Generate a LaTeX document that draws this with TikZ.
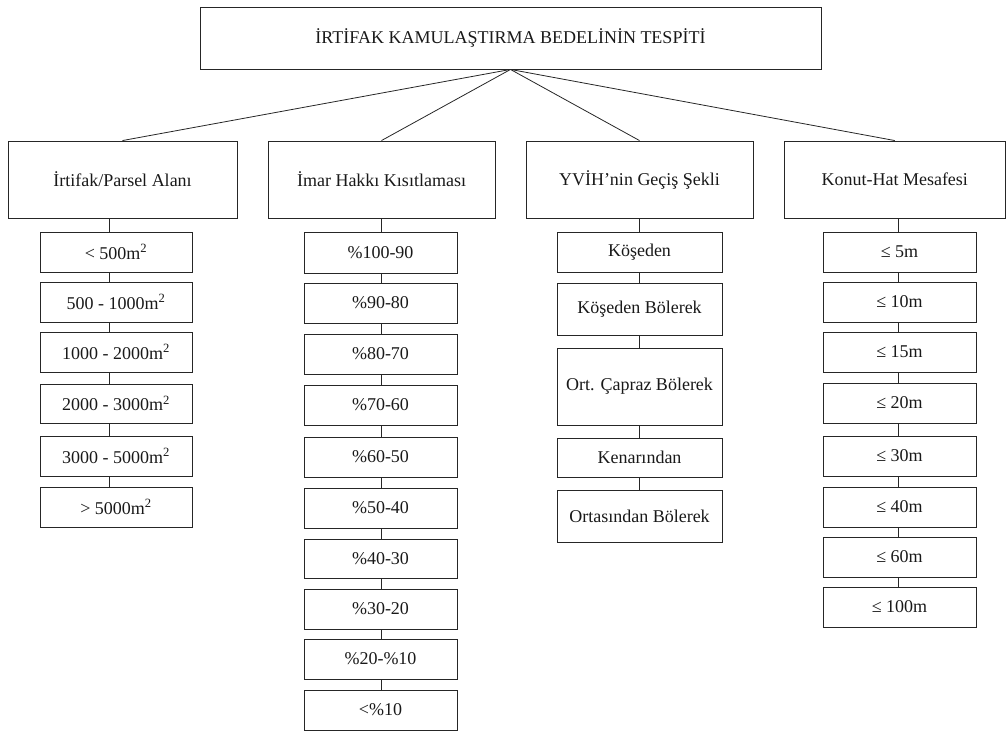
\documentclass[tikz,border=0pt]{standalone}
\usepackage{fontspec}
\setmainfont{Liberation Serif}
\tikzset{
  box/.style={draw=black!85, line width=0.9pt, inner sep=0pt, align=center, text=black!90,
    font=\fontsize{18}{21}\selectfont},
  link/.style={draw=black!85, line width=0.8pt}
}
% \bx{name}{x1}{y1}{x2}{y2}{text}
\newcommand{\bx}[6]{%
  \node[box, minimum width={(#4-#2)*1pt}, minimum height={(#5-#3)*1pt}]
    (#1) at ({(#2+#4)/2},{(#3+#5)/2}) {#6};}
\newcommand{\sqm}{m\textsuperscript{2}}
\begin{document}
\begin{tikzpicture}[x=1pt,y=-1pt]
\useasboundingbox (0,0) rectangle (1007,731);
% title
\bx{top}{200}{7}{821}{69}{İRTİFAK KAMULAŞTIRMA BEDELİNİN TESPİTİ}
% categories
\bx{k1}{8}{141}{237}{218}{İrtifak/Parsel Alanı}
\bx{k2}{268}{141}{495}{218}{İmar Hakkı Kısıtlaması}
\bx{k3}{526}{141}{753}{218}{YVİH’nin Geçiş Şekli}
\bx{k4}{784}{141}{1005.5}{218}{Konut-Hat Mesafesi}
\foreach \k in {k1,k2,k3,k4}{\draw[link] (top.south) -- (\k.north);}
% column 1
\bx{a1}{40}{232}{192}{272}{< 500\sqm}
\bx{a2}{40}{282}{192}{322}{500 - 1000\sqm}
\bx{a3}{40}{332}{192}{372}{1000 - 2000\sqm}
\bx{a4}{40}{384}{192}{423}{2000 - 3000\sqm}
\bx{a5}{40}{436}{192}{476}{3000 - 5000\sqm}
\bx{a6}{40}{487}{192}{527}{> 5000\sqm}
% column 2
\bx{b1}{304}{232}{457}{273}{\%100-90}
\bx{b2}{304}{283}{457}{323}{\%90-80}
\bx{b3}{304}{334}{457}{374}{\%80-70}
\bx{b4}{304}{385}{457}{425}{\%70-60}
\bx{b5}{304}{437}{457}{477}{\%60-50}
\bx{b6}{304}{488}{457}{528}{\%50-40}
\bx{b7}{304}{539}{457}{578}{\%40-30}
\bx{b8}{304}{589}{457}{629}{\%30-20}
\bx{b9}{304}{639}{457}{679}{\%20-\%10}
\bx{b10}{304}{690}{457}{730}{<\%10}
% column 3
\bx{c1}{557}{232}{722}{272}{Köşeden}
\bx{c2}{557}{283}{722}{335}{Köşeden Bölerek}
\bx{c3}{557}{348}{722}{425}{Ort. Çapraz Bölerek}
\bx{c4}{557}{438}{722}{477}{Kenarından}
\bx{c5}{557}{490}{722}{542}{Ortasından Bölerek}
% column 4
\bx{d1}{823}{232}{976}{272}{≤ 5m}
\bx{d2}{823}{282}{976}{322}{≤ 10m}
\bx{d3}{823}{332}{976}{372}{≤ 15m}
\bx{d4}{823}{383}{976}{423}{≤ 20m}
\bx{d5}{823}{436}{976}{476}{≤ 30m}
\bx{d6}{823}{487}{976}{527}{≤ 40m}
\bx{d7}{823}{537}{976}{577}{≤ 60m}
\bx{d8}{823}{587}{976}{627}{≤ 100m}
% connector axes
\coordinate (xa) at (109,0);
\coordinate (xb) at (381,0);
\coordinate (xc) at (639,0);
\coordinate (xd) at (898,0);
% vertical connectors
\draw[link] (k1.south -| xa) -- (a1.north -| xa);
\foreach \u/\v in {a1/a2,a2/a3,a3/a4,a4/a5,a5/a6}{\draw[link] (\u.south -| xa) -- (\v.north -| xa);}
\draw[link] (k2.south -| xb) -- (b1.north -| xb);
\foreach \u/\v in {b1/b2,b2/b3,b3/b4,b4/b5,b5/b6,b6/b7,b7/b8,b8/b9,b9/b10}{\draw[link] (\u.south -| xb) -- (\v.north -| xb);}
\draw[link] (k3.south -| xc) -- (c1.north -| xc);
\foreach \u/\v in {c1/c2,c2/c3,c3/c4,c4/c5}{\draw[link] (\u.south -| xc) -- (\v.north -| xc);}
\draw[link] (k4.south -| xd) -- (d1.north -| xd);
\foreach \u/\v in {d1/d2,d2/d3,d3/d4,d4/d5,d5/d6,d6/d7,d7/d8}{\draw[link] (\u.south -| xd) -- (\v.north -| xd);}
\end{tikzpicture}
\end{document}
